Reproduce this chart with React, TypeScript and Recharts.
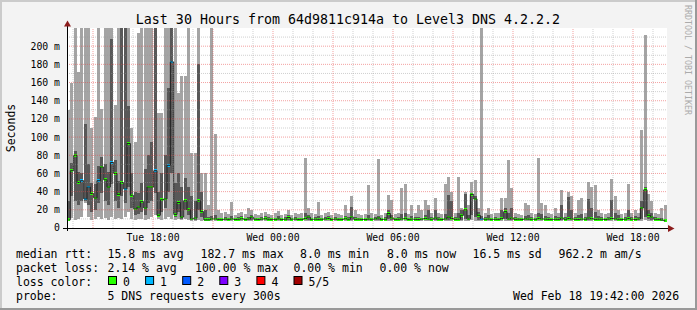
import React from "react";
import { ComposedChart, Bar, Line, XAxis, YAxis, ReferenceLine, Cell } from "recharts";

// 10-minute slots from Tue 13:42 to Wed 19:42 (30 hours, 180 slots)
// five sorted pings per slot: p1 (min) .. p5 (max), p3 = median, values in ms
const p1 = [
  8, 11, 9, 10, 12, 28, 12, 9, 10, 12,
  10, 11, 9, 12, 10, 11, 10, 12, 18, 10,
  9, 10, 10, 9, 10, 12, 14, 10, 9, 10,
  12, 10, 9, 10, 9, 10, 9, 8, 8, 9,
  8, 8, 8, 8, 8, 7.8, 8, 7.9, 8, 8,
  7.8, 8, 8.1, 7.9, 8, 7.8, 8, 8, 7.9, 8.1,
  8, 7.8, 8, 8, 7.9, 8, 8.2, 7.8, 8, 8,
  7.9, 8, 8, 7.8, 8, 8, 7.9, 8, 8.1, 7.8,
  8, 8, 7.9, 8, 8, 8.1, 7.8, 8, 8, 7.9,
  8, 8, 8, 8.2, 7.9, 8, 8, 8, 7.8, 8,
  8, 8.1, 7.9, 8, 8, 7.8, 8, 8, 8, 7.9,
  8, 8, 7.8, 8, 8.1, 8, 7.9, 8, 8, 8.2,
  8, 8.4, 8.2, 8, 7.9, 8, 8, 7.8, 8, 8,
  8, 8.1, 8, 8, 7.9, 8, 7.8, 8, 8, 8,
  7.9, 8, 8, 8.1, 8, 7.8, 8, 8, 8, 7.9,
  8, 8, 8, 7.8, 8, 8, 8.1, 8, 7.9, 8,
  8, 7.8, 8, 8, 8.1, 8, 7.9, 8, 8, 8,
  7.8, 8, 8.2, 8.4, 8, 8, 7.9, 8, 7.8, 7.6,
];
const p2 = [
  10, 35, 30, 25, 30, 30, 25, 18, 20, 28,
  38, 30, 25, 48, 30, 22, 35, 28, 45, 22,
  14, 15, 18, 14, 28, 30, 38, 12, 18, 22,
  40, 60, 12, 18, 10, 20, 14, 9, 9, 20,
  12, 8.5, 8.5, 9, 9, 8.5, 8.4, 8.6, 8.5, 8.7,
  8.5, 8.6, 8.8, 8.4, 8.6, 8.5, 8.7, 8.5, 8.4, 8.8,
  8.6, 8.5, 8.5, 8.7, 8.4, 8.6, 8.9, 8.5, 8.6, 8.5,
  8.5, 8.8, 8.7, 8.4, 8.6, 8.5, 8.5, 8.7, 8.8, 8.4,
  8.6, 8.5, 8.5, 8.7, 8.6, 8.9, 8.5, 8.6, 8.5, 8.4,
  8.6, 8.5, 8.7, 8.9, 8.5, 8.6, 9.5, 8.8, 8.5, 8.6,
  8.7, 8.8, 8.5, 8.6, 8.5, 8.4, 8.6, 8.8, 8.7, 8.5,
  8.9, 8.6, 8.4, 8.7, 9, 8.8, 8.5, 8.6, 9, 10,
  8.8, 14, 12, 9, 8.6, 8.5, 8.7, 8.4, 8.6, 8.5,
  8.8, 9.5, 8.7, 9, 8.5, 8.6, 8.4, 8.7, 8.6, 8.5,
  8.5, 8.8, 8.7, 8.6, 8.5, 8.4, 8.6, 8.5, 8.9, 8.5,
  8.8, 8.7, 8.5, 8.4, 8.6, 8.5, 8.9, 8.7, 8.5, 8.6,
  8.5, 8.4, 8.6, 8.8, 8.7, 8.5, 8.4, 8.6, 8.8, 8.5,
  8.4, 8.6, 10, 12, 9.5, 8.8, 8.5, 8.6, 8.4, 7.9,
];
const median = [
  9, 63, 80, 50, 52, 32, 45, 38, 33, 52,
  67, 53, 45, 72, 60, 37, 50, 43, 93, 36,
  21, 23, 29, 22, 45, 45, 63, 14, 31, 32,
  69, 182.7, 15, 28, 12, 30, 20, 10, 11, 30,
  18, 9, 9, 10, 10, 9.5, 9.2, 9.8, 9.5, 10,
  9.4, 9.6, 10.2, 9.3, 9.8, 12, 9.6, 9.4, 9.8, 10.2,
  9.6, 9.4, 9.5, 10, 9.3, 9.7, 11.5, 9.6, 9.8, 9.4,
  9.5, 10.5, 12, 9.4, 9.7, 9.5, 9.6, 10, 10.5, 9.3,
  9.8, 9.5, 9.4, 10.2, 9.6, 12, 9.5, 9.7, 9.4, 9.3,
  9.8, 9.5, 10, 11, 9.4, 9.6, 16, 11, 9.5, 9.6,
  10, 10.6, 9.4, 9.7, 9.5, 9.3, 9.8, 10.5, 10, 9.5,
  11, 9.6, 9.4, 10, 12, 10.5, 9.5, 9.7, 14, 20,
  10, 37, 32, 14, 10, 9.6, 9.8, 9.4, 9.6, 9.5,
  10.5, 18, 10, 11, 9.5, 9.7, 9.4, 10, 9.8, 9.5,
  9.6, 10.5, 10, 9.7, 9.5, 9.3, 9.6, 9.5, 11, 9.6,
  10.5, 10, 9.5, 9.4, 9.8, 9.6, 11, 10.2, 9.5, 9.7,
  9.6, 9.4, 9.8, 10.5, 10, 9.6, 9.4, 9.7, 10.5, 9.6,
  9.4, 9.8, 22, 42, 14, 12, 9.6, 9.5, 8.8, 8,
];
const p4 = [
  30, 72, 85, 62, 60, 114, 70, 50, 48, 68,
  78, 70, 62, 208, 75, 52, 240, 240, 134, 60,
  40, 38, 50, 65, 80, 95, 240, 40, 60, 80,
  154, 240, 50, 60, 45, 55, 45, 35, 30, 180,
  40, 20, 12, 13, 14, 11, 11.5, 12, 11, 13,
  11, 12, 13, 11, 12, 14, 11.5, 11, 12, 13,
  12, 11, 11.5, 13, 11, 12, 14, 11, 12.5, 11,
  11.5, 16, 14, 11, 12, 13, 11, 12, 13, 11,
  12, 11.5, 11, 13, 12, 23, 12, 11.5, 11, 11,
  14, 11.5, 12, 13, 11, 12, 20, 14, 11.5, 12,
  15, 16, 11, 13, 12, 12, 11.5, 14, 20, 12,
  20, 12, 11, 15, 36, 30, 12, 16, 20, 37,
  14, 38, 35, 18, 13, 12, 14, 11, 12, 11.5,
  20, 22, 16, 22, 12, 11.5, 11, 13, 14, 12,
  11.5, 16, 15, 13, 12, 11, 13, 12, 25, 12,
  34, 20, 12, 14, 15, 12, 32, 22, 18, 13,
  12, 11, 12, 31, 16, 14, 11, 12, 20, 12,
  13, 12, 30, 45, 20, 16, 12, 11.5, 11, 10,
];
const p5 = [
  130, 160, 240, 172, 240, 240, 240, 110, 122, 240,
  131, 240, 240, 240, 135, 240, 240, 240, 240, 110,
  95, 214, 240, 240, 240, 240, 240, 126, 126, 240,
  240, 240, 240, 148, 167, 167, 240, 82, 82, 240,
  60, 60, 25, 240, 103, 20, 16, 18, 15, 29,
  14, 16, 18, 15, 22, 20, 15, 14, 16, 18,
  15, 14, 16, 19, 14, 15, 20, 14, 17, 15,
  16, 77, 22, 16, 15, 29, 14, 16, 18, 14,
  16, 15, 14, 25, 16, 35, 20, 15, 14, 15,
  47, 16, 15, 76, 14, 16, 36, 31, 15, 16,
  44, 48, 15, 25, 16, 25, 20, 31, 25, 16,
  33, 16, 15, 48, 56, 40, 16, 56, 22, 40,
  25, 51, 53, 22, 240, 16, 22, 15, 17, 16,
  33, 33, 75, 44, 16, 15, 14, 28, 25, 16,
  15, 77, 28, 25, 16, 15, 22, 16, 42, 17,
  40, 35, 16, 31, 33, 16, 51, 45, 47, 20,
  16, 15, 17, 54, 35, 20, 15, 16, 48, 16,
  20, 16, 108, 212, 37, 30, 16, 15, 22, 25,
];
// lost pings per slot (out of 5)
const loss = [
  0, 0, 0, 0, 1, 1, 1, 0, 0, 1,
  0, 0, 0, 1, 0, 0, 0, 1, 0, 0,
  0, 0, 0, 0, 0, 0, 1, 0, 0, 0,
  1, 1, 0, 0, 0, 0, 0, 0, 0, 0,
  0, 0, 0, 0, 0, 0, 0, 0, 0, 0,
  0, 0, 0, 0, 0, 0, 0, 0, 0, 0,
  0, 0, 0, 0, 0, 0, 0, 0, 0, 0,
  0, 0, 0, 0, 0, 0, 0, 0, 0, 0,
  0, 0, 0, 0, 0, 0, 0, 0, 0, 0,
  0, 0, 0, 0, 0, 0, 0, 0, 0, 0,
  0, 0, 0, 0, 0, 0, 0, 0, 0, 0,
  0, 0, 0, 0, 0, 0, 0, 0, 0, 0,
  0, 0, 0, 0, 1, 0, 0, 0, 0, 0,
  0, 0, 0, 0, 0, 0, 0, 0, 0, 0,
  0, 0, 0, 0, 0, 0, 0, 0, 0, 0,
  0, 0, 0, 0, 0, 0, 0, 0, 0, 0,
  0, 0, 0, 0, 0, 0, 0, 0, 0, 0,
  0, 0, 0, 0, 0, 0, 0, 0, 0, 0,
];

// minutes after 13:42 for the labelled times
const timeTicks = [258, 618, 978, 1338, 1698];
const timeLabels = ["Tue 18:00", "Wed 00:00", "Wed 06:00", "Wed 12:00", "Wed 18:00"];
const yTicks = [0, 20, 40, 60, 80, 100, 120, 140, 160, 180, 200];

const LOSS_COLORS = ["#26ff00", "#00b8ff", "#0059ff", "#7e00ff", "#ff0000", "#a10000"];
const LOSS_LABELS = ["0", "1", "2", "3", "4", "5/5"];

const FONT = "'DejaVu Sans Mono', monospace";
// grid is translucent like rrdtool's, so the smoke and median show through
const MINOR = "rgba(150,150,150,0.45)";
const MAJOR = "rgba(232,70,70,0.5)";
const HALF = 1.5; // half height of the median marker

const data = p1.map((v, i) => ({
  slot: i,
  t: i * 10,
  base: v,
  outerLo: p2[i] - v,
  inner: p4[i] - p2[i],
  outerHi: p5[i] - p4[i],
  med: median[i],
  medBase: median[i] - HALF,
  medBand: HALF * 2,
  loss: loss[i],
}));

// hour grid: first full hour is 14:00 (18 min after start)
const hourLines = [];
for (let m = 18, h = 14; m <= 1800; m += 60, h++) hourLines.push({ m, major: h % 3 === 0 });
const valueLines = [];
for (let v = 10; v <= 210; v += 10) valueLines.push({ v, major: v % 20 === 0 });

const layer = { position: "absolute", left: 0, top: 0 } as const;

// rrdtool paints its grid over the smoke, so the grid gets its own chart on top
const GridLayer = () => (
  <ComposedChart width={697} height={310} data={data} margin={{ top: 28, right: 30, bottom: 82, left: 67 }}>
    <XAxis xAxisId="t" dataKey="t" type="number" domain={[0, 1800]} allowDataOverflow hide />
    <YAxis type="number" domain={[0, 220]} allowDataOverflow hide />
    {valueLines.map((g) => (
      <ReferenceLine key={`y${g.v}`} xAxisId="t" y={g.v} stroke={g.major ? MAJOR : MINOR} strokeDasharray="1 1" />
    ))}
    {hourLines.map((g) => (
      <ReferenceLine key={`x${g.m}`} xAxisId="t" x={g.m} stroke={g.major ? MAJOR : MINOR} strokeDasharray="1 1" />
    ))}
  </ComposedChart>
);

const App = () => {
  return (
    <div style={{ position: "absolute", left: 0, top: 0, width: 697, height: 310, background: "#f3f3f3" }}>
      <style>{`.recharts-bar-rectangle path{shape-rendering:crispEdges}`}</style>
      <div style={{ position: "absolute", left: 67, top: 28, width: 600, height: 200, background: "#ffffff" }} />
      <div style={layer}>
        <ComposedChart
          width={697}
          height={310}
          data={data}
          margin={{ top: 28, right: 30, bottom: 62, left: 0 }}
          barCategoryGap={0}
          barGap={0}
        >
          <XAxis
            xAxisId="t"
            dataKey="t"
            type="number"
            domain={[0, 1800]}
            allowDataOverflow
            ticks={timeTicks}
            tickFormatter={(v) => timeLabels[timeTicks.indexOf(v)]}
            axisLine={false}
            tickLine={false}
            tickSize={4}
            tickMargin={2}
            height={20}
            tick={{ fontFamily: FONT, fontSize: 9.8, fill: "#000" }}
          />
          <XAxis xAxisId="cat" dataKey="slot" hide height={0} />
          <XAxis xAxisId="med" dataKey="slot" hide height={0} />
          <YAxis
            type="number"
            domain={[0, 220]}
            allowDataOverflow
            ticks={yTicks}
            tickFormatter={(v) => (v === 0 ? "0" : `${v} m`)}
            axisLine={false}
            tickLine={false}
            tickSize={5}
            tickMargin={2}
            width={67}
            tick={{ fontFamily: FONT, fontSize: 9.8, fill: "#000" }}
          />
          <Bar xAxisId="cat" dataKey="base" stackId="smoke" fill="transparent" isAnimationActive={false} />
          <Bar xAxisId="cat" dataKey="outerLo" stackId="smoke" fill="#a4a4a4" isAnimationActive={false} />
          <Bar xAxisId="cat" dataKey="inner" stackId="smoke" fill="#585858" isAnimationActive={false} />
          <Bar xAxisId="cat" dataKey="outerHi" stackId="smoke" fill="#a4a4a4" isAnimationActive={false} />
          <Line
            xAxisId="cat"
            dataKey="med"
            type="step"
            stroke="#202020"
            strokeWidth={1}
            dot={false}
            activeDot={false}
            isAnimationActive={false}
          />
          <Bar xAxisId="med" dataKey="medBase" stackId="median" fill="transparent" isAnimationActive={false} />
          <Bar xAxisId="med" dataKey="medBand" stackId="median" isAnimationActive={false}>
            {data.map((d, i) => (
              <Cell key={`m-${i}`} fill={LOSS_COLORS[d.loss]} />
            ))}
          </Bar>
        </ComposedChart>
      </div>
      <div style={{ ...layer, pointerEvents: "none" }}>
        <GridLayer />
      </div>
      <svg width={697} height={310} style={{ ...layer, pointerEvents: "none" }} fontFamily={FONT}>
        {/* frame */}
        <line x1={0} y1={1} x2={697} y2={1} stroke="#cbcbcb" strokeWidth={2} />
        <line x1={1} y1={0} x2={1} y2={310} stroke="#cbcbcb" strokeWidth={2} />
        <line x1={0} y1={309} x2={697} y2={309} stroke="#999" strokeWidth={2} />
        <line x1={696} y1={0} x2={696} y2={310} stroke="#999" strokeWidth={2} />

        {/* axes with arrows */}
        <line x1={63} y1={228.5} x2={670} y2={228.5} stroke="#000" />
        <line x1={67.5} y1={231} x2={67.5} y2={24} stroke="#000" />
        <polygon points="64,26.5 71,26.5 67.5,20.5" fill="#8c1c1c" />
        <polygon points="668,225 668,232 674.5,228.5" fill="#8c1c1c" />

        <text x={348} y={23.5} fontSize={13.3} textAnchor="middle" fill="#000">
          Last 30 Hours from 64d9811c914a to Level3 DNS 4.2.2.2
        </text>
        <text transform="translate(15,128) rotate(-90)" fontSize={11.5} textAnchor="middle" fill="#000">
          Seconds
        </text>
        <text transform="translate(685,5) rotate(90)" fontSize={8.3} fill="#ababab">
          RRDTOOL / TOBI OETIKER
        </text>

        <g fontSize={11.5} fill="#000">
          <text x={16} y={258}>median rtt:</text>
          <text x={107.5} y={258}>15.8 ms avg</text>
          <text x={200.5} y={258}>182.7 ms max</text>
          <text x={300} y={258}>8.0 ms min</text>
          <text x={387} y={258}>8.0 ms now</text>
          <text x={472.5} y={258}>16.5 ms sd</text>
          <text x={558.5} y={258}>962.2 m am/s</text>

          <text x={16} y={271.7}>packet loss:</text>
          <text x={107.5} y={271.7}>2.14 % avg</text>
          <text x={195} y={271.7}>100.00 % max</text>
          <text x={293.5} y={271.7}>0.00 % min</text>
          <text x={379.5} y={271.7}>0.00 % now</text>

          <text x={16} y={285.6}>loss color:</text>
          {LOSS_COLORS.map((c, i) => (
            <g key={c}>
              <rect x={108.5 + i * 37.1} y={276.5} width={8} height={8} fill={c} stroke="#000" strokeWidth={1} />
              <text x={123 + i * 37.1} y={285.6}>{LOSS_LABELS[i]}</text>
            </g>
          ))}

          <text x={16} y={299.5}>probe:</text>
          <text x={107.5} y={299.5}>5 DNS requests every 300s</text>
          <text x={513} y={299.5}>Wed Feb 18 19:42:00 2026</text>
        </g>
      </svg>
    </div>
  );
};

export default App;
